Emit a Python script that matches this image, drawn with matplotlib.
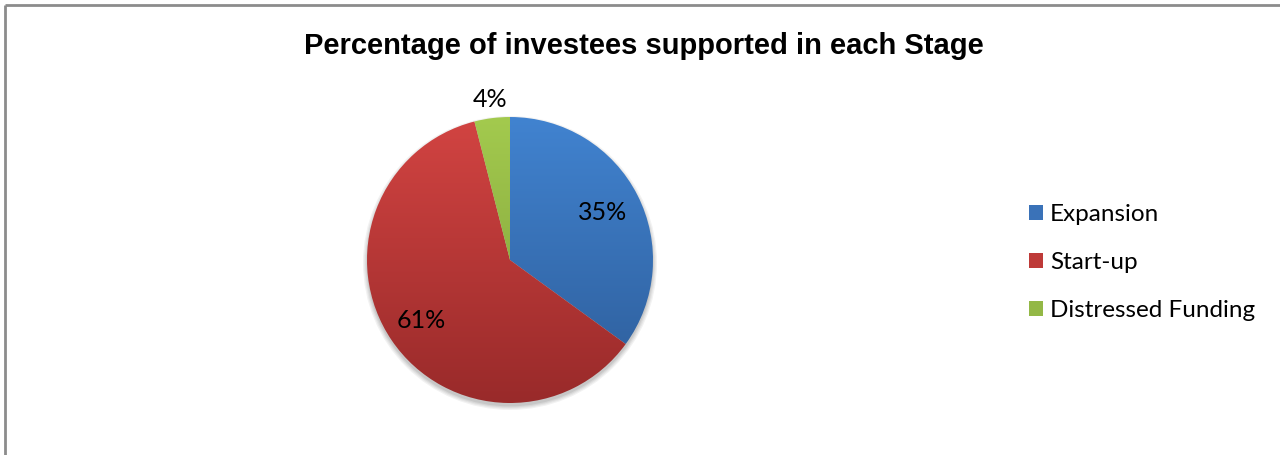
import numpy as np
import matplotlib
matplotlib.use("Agg")
from matplotlib import pyplot as plt
from matplotlib.patches import Patch, Circle
from matplotlib.colors import LinearSegmentedColormap

stages = ["Expansion", "Start-up", "Distressed Funding"]
shares = [35, 61, 4]
pct_labels = ["35%", "61%", "4%"]

# top / bottom colours of each slice gradient
tops = ["#4183d0", "#d24442", "#a3ca4e"]
bottoms = ["#2d5c98", "#992a2a", "#7c9b38"]
legend_cols = ["#3a72b8", "#be3a38", "#93b846"]
label_dist = [0.73, 0.75, 1.13]

W, H = 1280, 455
fig = plt.figure(figsize=(W / 100, H / 100), dpi=100)
ax = fig.add_axes([0, 0, 1, 1])

cx, cy, r = 510, H - 260, 143

# soft drop shadow under the pie
for i, a in enumerate([0.05, 0.05, 0.06, 0.07]):
    ax.add_patch(Circle((cx, cy - 3), r + 4 - i * 1.2, color="black", alpha=a, lw=0, zorder=1))

wedges, _ = ax.pie(shares, startangle=90, counterclock=False, center=(cx, cy),
                   radius=r, wedgeprops=dict(linewidth=0), frame=True)

grad = np.linspace(0, 1, 256).reshape(-1, 1)
for w, t, b in zip(wedges, tops, bottoms):
    w.set_facecolor("none")
    w.set_zorder(2)
    cmap = LinearSegmentedColormap.from_list("g", [t, b])
    im = ax.imshow(grad, cmap=cmap, extent=(cx - r, cx + r, cy - r, cy + r),
                   origin="upper", aspect="auto", zorder=2, interpolation="bilinear")
    im.set_clip_path(w)

for w, lab, d in zip(wedges, pct_labels, label_dist):
    mid = np.deg2rad((w.theta1 + w.theta2) / 2)
    ax.text(cx + d * r * np.cos(mid), cy + d * r * np.sin(mid), lab,
            ha="center", va="center", fontsize=18, family="Lato", color="black", zorder=5)

ax.set_xlim(0, W)
ax.set_ylim(0, H)
ax.set_aspect("auto")
ax.axis("off")

ax.text(644, H - 46, "Percentage of investees supported in each Stage", ha="center", va="center",
        fontsize=21, fontweight="bold", family="Liberation Sans")

handles = [Patch(facecolor=c, edgecolor="none") for c in legend_cols]
leg = fig.legend(handles, stages, loc="center left", bbox_to_anchor=(1007 / W, 1 - 262.5 / H),
                 frameon=False, handlelength=0.57, handleheight=0.57, handletextpad=0.3,
                 labelspacing=1.12, prop=dict(family="Lato", size=17.5))

# chart frame (only the top and left edges are in view)
ax.plot([5, W], [H - 5, H - 5], color="#8c8c8c", lw=2, solid_capstyle="butt")
ax.plot([5, 5], [0, H - 5], color="#8c8c8c", lw=2, solid_capstyle="butt")

fig.savefig("out.png", dpi=100)
